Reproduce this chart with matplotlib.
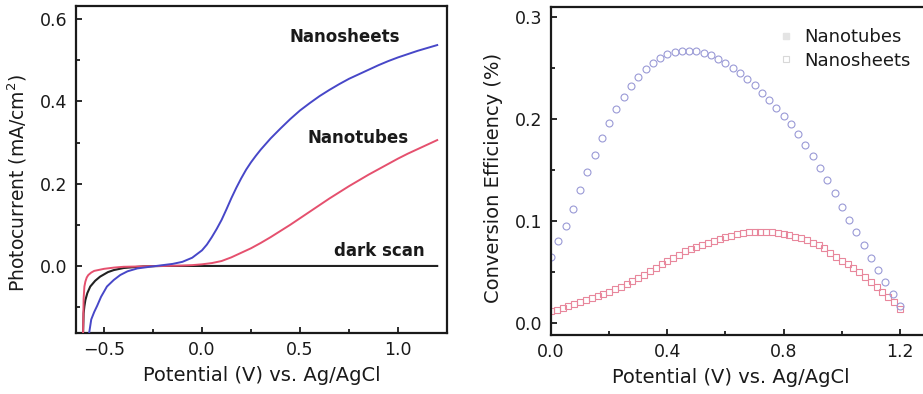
import numpy as np
import matplotlib.pyplot as plt
from matplotlib.ticker import MultipleLocator
from matplotlib.lines import Line2D

plt.rcParams['font.family'] = ['DejaVu Sans']

# --- photocurrent vs potential (left) ---
sheets_v = [-0.578, -0.565, -0.55, -0.535, -0.515, -0.485, -0.45, -0.417, -0.38, -0.33,
            -0.25, -0.20, -0.15, -0.10, -0.05, 0.00, 0.025, 0.05, 0.075, 0.10, 0.125, 0.15,
            0.175, 0.20, 0.225, 0.25, 0.275, 0.30, 0.35, 0.40, 0.45, 0.50, 0.55, 0.60, 0.65,
            0.70, 0.75, 0.80, 0.85, 0.90, 0.95, 1.00, 1.05, 1.10, 1.15, 1.20]
sheets_j = [-0.170, -0.130, -0.112, -0.097, -0.075, -0.050, -0.034, -0.022, -0.013, -0.006,
            -0.001, 0.002, 0.005, 0.010, 0.020, 0.038, 0.052, 0.070, 0.090, 0.112, 0.138, 0.165,
            0.190, 0.213, 0.234, 0.252, 0.268, 0.283, 0.310, 0.334, 0.357, 0.378, 0.396, 0.413, 0.428,
            0.442, 0.455, 0.466, 0.477, 0.488, 0.498, 0.507, 0.515, 0.523, 0.530, 0.537]

tubes_v = [-0.607, -0.604, -0.600, -0.595, -0.588, -0.58, -0.565, -0.55, -0.50, -0.45, -0.40,
           -0.30, -0.20, -0.10, -0.05, 0.00, 0.05, 0.10, 0.15, 0.20, 0.25, 0.30, 0.35, 0.40,
           0.45, 0.50, 0.55, 0.60, 0.65, 0.70, 0.75, 0.80, 0.85, 0.90, 0.95, 1.00, 1.05, 1.10,
           1.15, 1.20]
tubes_j = [-0.170, -0.080, -0.050, -0.038, -0.028, -0.022, -0.016, -0.012, -0.007, -0.004, -0.002,
           -0.001, 0.000, 0.001, 0.002, 0.004, 0.007, 0.012, 0.021, 0.032, 0.043, 0.056, 0.070, 0.085,
           0.100, 0.116, 0.132, 0.148, 0.164, 0.179, 0.194, 0.208, 0.222, 0.235, 0.248, 0.261, 0.273,
           0.284, 0.295, 0.306]

dark_v = [-0.607, -0.604, -0.600, -0.595, -0.585, -0.57, -0.545, -0.52, -0.48, -0.45, -0.40,
          -0.30, -0.20, 0.00, 0.50, 1.00, 1.20]
dark_j = [-0.170, -0.115, -0.098, -0.083, -0.066, -0.050, -0.036, -0.026, -0.015, -0.010, -0.005,
          -0.001, 0.000, 0.000, 0.000, 0.000, 0.000]

# --- conversion efficiency vs potential (right) ---
eff_sheets_v = [0.000, 0.025, 0.050, 0.075, 0.100, 0.125, 0.150, 0.175, 0.200, 0.225,
                0.250, 0.275, 0.300, 0.325, 0.350, 0.375, 0.400, 0.425, 0.450, 0.475,
                0.500, 0.525, 0.550, 0.575, 0.600, 0.625, 0.650, 0.675, 0.700, 0.725,
                0.750, 0.775, 0.800, 0.825, 0.850, 0.875, 0.900, 0.925, 0.950, 0.975,
                1.000, 1.025, 1.050, 1.075, 1.100, 1.125, 1.150, 1.175, 1.200]
eff_sheets = [0.065, 0.080, 0.095, 0.112, 0.130, 0.148, 0.165, 0.181, 0.196, 0.210,
              0.222, 0.232, 0.241, 0.249, 0.255, 0.260, 0.264, 0.266, 0.267, 0.267,
              0.267, 0.265, 0.263, 0.259, 0.255, 0.250, 0.245, 0.239, 0.233, 0.226,
              0.219, 0.211, 0.203, 0.195, 0.185, 0.175, 0.164, 0.152, 0.140, 0.127,
              0.114, 0.101, 0.089, 0.076, 0.064, 0.052, 0.040, 0.028, 0.016]

eff_tubes_v = [0.00, 0.02, 0.04, 0.06, 0.08, 0.10, 0.12, 0.14, 0.16, 0.18,
               0.20, 0.22, 0.24, 0.26, 0.28, 0.30, 0.32, 0.34, 0.36, 0.38,
               0.40, 0.42, 0.44, 0.46, 0.48, 0.50, 0.52, 0.54, 0.56, 0.58,
               0.60, 0.62, 0.64, 0.66, 0.68, 0.70, 0.72, 0.74, 0.76, 0.78,
               0.80, 0.82, 0.84, 0.86, 0.88, 0.90, 0.92, 0.94, 0.96, 0.98,
               1.00, 1.02, 1.04, 1.06, 1.08, 1.10, 1.12, 1.14, 1.16, 1.18, 1.20]
eff_tubes = [0.012, 0.013, 0.015, 0.016, 0.018, 0.020, 0.022, 0.024, 0.026, 0.028,
             0.030, 0.033, 0.035, 0.038, 0.041, 0.044, 0.047, 0.051, 0.054, 0.058,
             0.061, 0.064, 0.067, 0.070, 0.072, 0.074, 0.076, 0.078, 0.080, 0.082,
             0.084, 0.085, 0.087, 0.088, 0.089, 0.089, 0.089, 0.089, 0.089, 0.088,
             0.087, 0.086, 0.084, 0.083, 0.081, 0.078, 0.076, 0.073, 0.069, 0.065,
             0.061, 0.058, 0.054, 0.050, 0.045, 0.040, 0.035, 0.030, 0.025, 0.020, 0.014]

BLUE = '#4747c8'
RED = '#e5506e'
INK = '#1a1a1a'

fig = plt.figure(figsize=(9.23, 3.94), dpi=100)
ax1 = fig.add_axes([0.0823, 0.1548, 0.402, 0.830])
ax2 = fig.add_axes([0.597, 0.1497, 0.4095, 0.8325])


def style(ax):
    for s in ax.spines.values():
        s.set_linewidth(1.6)
        s.set_color(INK)
    ax.tick_params(which='both', direction='in', labelsize=12.5, width=1.3, colors=INK)
    ax.tick_params(which='major', length=4.5, pad=6)
    ax.tick_params(which='minor', length=3)


ax1.plot(dark_v, dark_j, color='#222222', lw=1.5, zorder=2)
ax1.plot(tubes_v, tubes_j, color=RED, lw=1.4, zorder=3)
ax1.plot(sheets_v, sheets_j, color=BLUE, lw=1.4, zorder=3)
ax1.set_xlim(-0.643, 1.25)
ax1.set_ylim(-0.163, 0.632)
ax1.xaxis.set_major_locator(MultipleLocator(0.5))
ax1.xaxis.set_minor_locator(MultipleLocator(0.25))
ax1.yaxis.set_major_locator(MultipleLocator(0.2))
ax1.yaxis.set_minor_locator(MultipleLocator(0.1))
ax1.set_xlabel('Potential (V) vs. Ag/AgCl', fontsize=14, color=INK)
ax1.xaxis.set_label_coords(0.5, -0.10)
ax1.set_ylabel('Photocurrent (mA/cm$^2$)', fontsize=13.5, color=INK)
ax1.yaxis.set_label_coords(-0.127, 0.46)
ax1.text(0.728, 0.556, 'Nanosheets', fontsize=12, fontweight='bold', ha='center', va='center', color=INK)
ax1.text(0.794, 0.311, 'Nanotubes', fontsize=12, fontweight='bold', ha='center', va='center', color=INK)
ax1.text(0.906, 0.036, 'dark scan', fontsize=12, fontweight='bold', ha='center', va='center', color=INK)
style(ax1)

ax2.plot(eff_tubes_v, eff_tubes, ls='none', marker='s', ms=4.3, mfc='none', mec='#e8879c', mew=0.8)
ax2.plot(eff_sheets_v, eff_sheets, ls='none', marker='o', ms=5, mfc='none', mec='#9a9ad6', mew=0.8)
ax2.set_xlim(0.0, 1.3)
ax2.set_ylim(-0.012, 0.31)
ax2.xaxis.set_major_locator(MultipleLocator(0.4))
ax2.xaxis.set_minor_locator(MultipleLocator(0.2))
ax2.yaxis.set_major_locator(MultipleLocator(0.1))
ax2.yaxis.set_minor_locator(MultipleLocator(0.05))
ax2.set_xlabel('Potential (V) vs. Ag/AgCl', fontsize=14, color=INK)
ax2.xaxis.set_label_coords(0.476, -0.10)
ax2.set_ylabel('Conversion Efficiency (%)', fontsize=14, color=INK)
ax2.yaxis.set_label_coords(-0.127, 0.48)
style(ax2)

handles = [Line2D([], [], ls='none', marker='s', ms=5, mfc='#e4e4e4', mec='#e4e4e4'),
           Line2D([], [], ls='none', marker='s', ms=4.5, mfc='none', mec='#d8d8d8', mew=0.8)]
ax2.legend(handles, ['Nanotubes', 'Nanosheets'], loc='upper left', bbox_to_anchor=(0.555, 0.985),
           frameon=False, fontsize=13, handletextpad=0.5, labelspacing=0.3, handlelength=1.0,
           labelcolor=INK)

fig.savefig('out.png', dpi=100)
